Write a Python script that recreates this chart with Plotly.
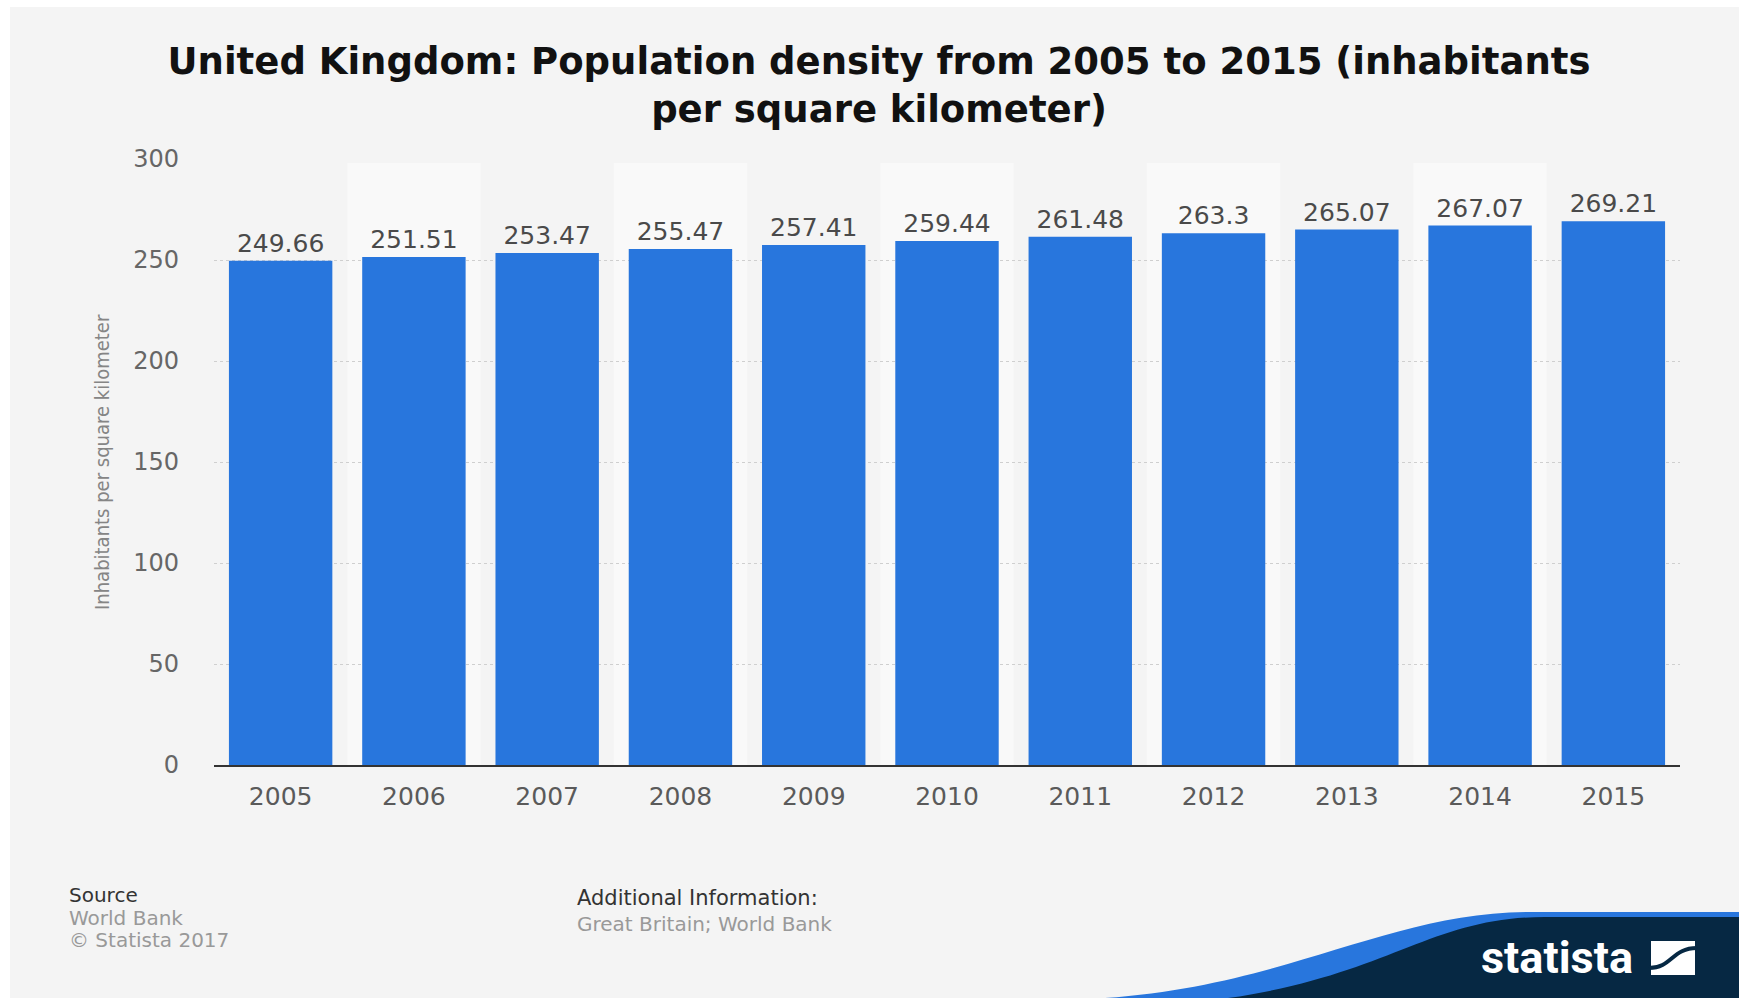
import plotly.graph_objects as go

# ---- data ----
years = ["2005", "2006", "2007", "2008", "2009", "2010", "2011", "2012", "2013", "2014", "2015"]
density = [249.66, 251.51, 253.47, 255.47, 257.41, 259.44, 261.48, 263.3, 265.07, 267.07, 269.21]
y_ticks = [0, 50, 100, 150, 200, 250, 300]

title_text = "United Kingdom: Population density from 2005 to 2015 (inhabitants<br>per square kilometer)"
y_title = "Inhabitants per square kilometer"

# ---- layout geometry ----
W, H = 1739, 998
ML, MR, MT, MB = 214, 59, 159, 233
PW, PH = W - ML - MR, H - MT - MB


def px(x):
    return (x - ML) / PW


def py(y):
    return (H - MB - y) / PH


BLUE = "#2876dd"
NAVY = "#062843"
FONT = "DejaVu Sans"

fig = go.Figure()
fig.add_trace(go.Bar(
    x=years, y=density,
    marker=dict(color=BLUE, line=dict(width=0)),
    text=[f"{v:g}" for v in density],
    textposition="outside",
    textfont=dict(family=FONT, size=25, color="#4a4a4a"),
    cliponaxis=False,
    hoverinfo="x+y",
))

shapes = []
# alternating lighter column bands
for i in range(1, len(years), 2):
    shapes.append(dict(type="rect", xref="x", yref="y", x0=i - 0.5, x1=i + 0.5,
                       y0=0, y1=298, fillcolor="#f9f9f9", line=dict(width=0), layer="below"))
# white outer strips
shapes.append(dict(type="rect", xref="paper", yref="paper", x0=px(0), x1=px(W), y0=py(7), y1=py(0),
                   fillcolor="white", line=dict(width=0), layer="above"))
shapes.append(dict(type="rect", xref="paper", yref="paper", x0=px(0), x1=px(10), y0=py(H), y1=py(0),
                   fillcolor="white", line=dict(width=0), layer="above"))


def path(points_cmds):
    out = []
    for cmd, pts in points_cmds:
        s = cmd
        if pts:
            s += " ".join(f"{px(x):.5f},{py(y):.5f}" for x, y in pts)
        out.append(s)
    return " ".join(out)


blue_path = path([("M", [(1105, 998)]), ("C", [(1290, 985), (1390, 912), (1530, 912)]),
                  ("L", [(1739, 912)]), ("L", [(1739, 998)]), ("Z", [])])
navy_path = path([("M", [(1228, 998)]), ("C", [(1390, 975), (1430, 917), (1545, 917)]),
                  ("L", [(1739, 917)]), ("L", [(1739, 998)]), ("Z", [])])
shapes.append(dict(type="path", xref="paper", yref="paper", path=blue_path,
                   fillcolor=BLUE, line=dict(width=0), layer="above"))
shapes.append(dict(type="path", xref="paper", yref="paper", path=navy_path,
                   fillcolor=NAVY, line=dict(width=0), layer="above"))
# logo icon
shapes.append(dict(type="rect", xref="paper", yref="paper", x0=px(1651), x1=px(1695), y0=py(975), y1=py(941),
                   fillcolor="white", line=dict(width=0), layer="above"))
swoosh = path([("M", [(1649, 968)]), ("C", [(1672, 968), (1672, 948), (1697, 948)])])
shapes.append(dict(type="path", xref="paper", yref="paper", path=swoosh,
                   line=dict(color=NAVY, width=4), layer="above"))

annotations = [
    dict(text=y_title, x=px(102), y=py(462), xref="paper", yref="paper", textangle=-90,
         showarrow=False, xanchor="center", yanchor="middle",
         font=dict(family="DejaVu Sans Condensed, Roboto", size=20, color="#858585")),
    dict(text="Source", x=px(67), y=py(895), xref="paper", yref="paper", showarrow=False,
         xanchor="left", yanchor="middle", font=dict(family=FONT, size=20, color="#333333")),
    dict(text="World Bank", x=px(67), y=py(918), xref="paper", yref="paper", showarrow=False,
         xanchor="left", yanchor="middle", font=dict(family=FONT, size=20, color="#999999")),
    dict(text="© Statista 2017", x=px(67), y=py(940), xref="paper", yref="paper", showarrow=False,
         xanchor="left", yanchor="middle", font=dict(family=FONT, size=20, color="#999999")),
    dict(text="Additional Information:", x=px(575), y=py(898), xref="paper", yref="paper", showarrow=False,
         xanchor="left", yanchor="middle", font=dict(family=FONT, size=21, color="#333333")),
    dict(text="Great Britain; World Bank", x=px(575), y=py(924), xref="paper", yref="paper", showarrow=False,
         xanchor="left", yanchor="middle", font=dict(family=FONT, size=20, color="#999999")),
    dict(text="<b>statista</b>", x=px(1557), y=py(957), xref="paper", yref="paper", showarrow=False,
         xanchor="center", yanchor="middle", font=dict(family="Roboto", size=45, color="white")),
]

fig.update_layout(
    width=W, height=H,
    margin=dict(l=ML, r=MR, t=MT, b=MB, pad=0),
    paper_bgcolor="#f4f4f4",
    plot_bgcolor="#f4f4f4",
    showlegend=False,
    bargap=0.224,
    title=dict(text="<b>" + title_text + "</b>", x=879 / W, xanchor="center",
               y=1 - 74 / H, yanchor="middle", yref="container",
               font=dict(family=FONT, size=37, color="#111111")),
    xaxis=dict(showgrid=False, showline=True, linecolor="#333333", linewidth=2,
               tickfont=dict(family=FONT, size=25, color="#5a5a5a"),
               ticks="", ticklabelstandoff=8, fixedrange=True),
    yaxis=dict(range=[0, 300], tickvals=y_ticks, showgrid=True, gridcolor="#cfcfcf",
               griddash="dot", gridwidth=1, zeroline=False, showline=False,
               tickfont=dict(family=FONT, size=24, color="#666666"),
               ticks="", ticklabelstandoff=34, fixedrange=True),
    shapes=shapes,
    annotations=annotations,
)

fig.write_html("out.html")
